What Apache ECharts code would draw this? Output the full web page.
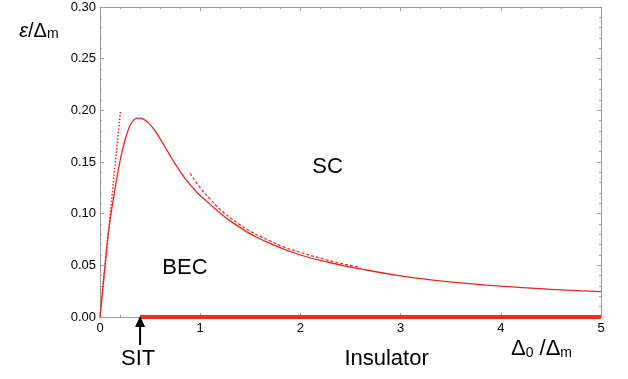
<!DOCTYPE html>
<html>
<head>
<meta charset="utf-8">
<script src="https://cdn.jsdelivr.net/npm/echarts@6/dist/echarts.min.js"></script>
<style>
  html, body { margin: 0; padding: 0; background: #fff; }
  #chart { width: 628px; height: 379px; }
</style>
</head>
<body>
<div id="chart"></div>
<script>
// Pair-breaking gap curve eps/Delta_m versus Delta_0/Delta_m
const gapDelta = [0, 0.03, 0.06, 0.08, 0.10, 0.12, 0.14, 0.16, 0.19, 0.22, 0.25, 0.28, 0.31, 0.34, 0.37, 0.40,
  0.45, 0.50, 0.55, 0.60, 0.65, 0.70, 0.75, 0.80, 0.85, 0.90, 0.95, 1.00, 1.10, 1.20, 1.30, 1.40, 1.50,
  1.70, 2.00, 2.30, 2.60, 3.00, 3.30, 3.60, 4.00, 4.50, 5.00];
const gapEps = [0, 0.030, 0.0595, 0.078, 0.093, 0.106, 0.118, 0.130, 0.146, 0.160, 0.1715, 0.1805, 0.187, 0.1908, 0.1924, 0.1925,
  0.1905, 0.1862, 0.1800, 0.1725, 0.1645, 0.1562, 0.1482, 0.1408, 0.1340, 0.1280, 0.1225, 0.1175, 0.1090, 0.1005, 0.0930, 0.0865, 0.0805,
  0.0710, 0.0600, 0.0525, 0.0465, 0.0398, 0.0360, 0.0330, 0.0298, 0.0268, 0.0245];

// Large-Delta_0 asymptote (dashed)
const asymDelta = [0.90, 1.00, 1.10, 1.20, 1.30, 1.40, 1.50, 1.60, 1.70, 1.80, 2.00, 2.20, 2.40, 2.60];
const asymEps = [0.139, 0.125, 0.114, 0.104, 0.096, 0.089, 0.083, 0.078, 0.0735, 0.069, 0.0625, 0.057, 0.052, 0.048];

// Small-Delta_0 slope (dotted)
const slopeDelta = [0, 0.205];
const slopeEps = [0, 0.200];

// Insulating segment on the axis, starting at the SIT point
const insulatorDelta = [0.4, 5];
const insulatorEps = [0, 0];
const sitDelta = 0.4;

// Axis ranges and ticks
const xMin = 0, xMax = 5, xStep = 1;
const yMin = 0, yMax = 0.30, yStep = 0.05;

const FONT = '"Liberation Sans", Arial, Helvetica, sans-serif';
const FRAME = '#9c9c9c';
const RED = '#f0231c';

const zip = (xs, ys) => xs.map((x, i) => [x, ys[i]]);

function xAxisDef(pos, showLabels) {
  return {
    type: 'value', position: pos, min: xMin, max: xMax, interval: xStep,
    axisLine: { show: true, onZero: false, lineStyle: { color: FRAME, width: 1 } },
    axisTick: { show: true, inside: true, length: 4, lineStyle: { color: FRAME } },
    minorTick: { show: true, splitNumber: 5, length: 2, lineStyle: { color: FRAME } },
    splitLine: { show: false },
    axisLabel: { show: showLabels, color: '#000', fontFamily: FONT, fontSize: 13, margin: 5,
      formatter: v => String(v) }
  };
}
function yAxisDef(pos, showLabels) {
  return {
    type: 'value', position: pos, min: yMin, max: yMax, interval: yStep,
    axisLine: { show: true, onZero: false, lineStyle: { color: FRAME, width: 1 } },
    axisTick: { show: true, inside: true, length: 4, lineStyle: { color: FRAME } },
    minorTick: { show: true, splitNumber: 5, length: 2, lineStyle: { color: FRAME } },
    splitLine: { show: false },
    axisLabel: { show: showLabels, color: '#000', fontFamily: FONT, fontSize: 13, margin: 4,
      formatter: v => v.toFixed(2) }
  };
}

const chart = echarts.init(document.getElementById('chart'), null, { renderer: 'canvas' });

chart.setOption({
  animation: false,
  backgroundColor: '#fff',
  grid: { left: 100, right: 27, top: 7, bottom: 62 },
  xAxis: [xAxisDef('bottom', true), xAxisDef('top', false)],
  yAxis: [yAxisDef('left', true), yAxisDef('right', false)],
  series: [
    {
      name: 'gap', type: 'line', data: zip(gapDelta, gapEps),
      showSymbol: false, smooth: 0.5, clip: false,
      lineStyle: { color: RED, width: 1.3 }, z: 3
    },
    {
      name: 'asymptote', type: 'line', data: zip(asymDelta, asymEps),
      showSymbol: false, smooth: 0.5, clip: false,
      lineStyle: { color: RED, width: 1.2, type: [3, 2] }, z: 3
    },
    {
      name: 'slope', type: 'line', data: zip(slopeDelta, slopeEps),
      showSymbol: false, clip: false,
      lineStyle: { color: RED, width: 1.5, type: [1.5, 1.8] }, z: 3
    },
    {
      name: 'insulator', type: 'line', data: zip(insulatorDelta, insulatorEps),
      showSymbol: false, clip: false,
      lineStyle: { color: '#ff2a14', width: 4 }, z: 4
    }
  ]
});

// Annotations: placed in data coordinates
const textStyleBase = { fontFamily: FONT, fill: '#000', align: 'center', verticalAlign: 'middle' };
const regionLabels = [
  { text: 'BEC', at: [0.848, 0.0470], size: 22 },
  { text: 'SC', at: [2.272, 0.1450], size: 22 },
  { text: 'SIT', at: [0.380, -0.0410], size: 22 },
  { text: 'Insulator', at: [2.860, -0.0410], size: 22 }
];

function px(p) { return chart.convertToPixel({ gridIndex: 0 }, p); }

const elements = [];
regionLabels.forEach(l => {
  const p = px(l.at);
  elements.push({
    type: 'text', x: p[0], y: p[1], z: 10,
    style: Object.assign({}, textStyleBase, { text: l.text, fontSize: l.size })
  });
});

// Arrow marking the SIT point
const tip = px([sitDelta, 0]);
elements.push({
  type: 'line', z: 10,
  shape: { x1: tip[0], y1: tip[1] + 9, x2: tip[0], y2: tip[1] + 28 },
  style: { stroke: '#000', lineWidth: 2 }
});
elements.push({
  type: 'polygon', z: 11,
  shape: { points: [[tip[0], tip[1] - 1], [tip[0] - 5, tip[1] + 10], [tip[0] + 5, tip[1] + 10]] },
  style: { fill: '#000' }
});

// Axis titles
const xTitle = px([4.406, -0.031]);
elements.push({
  type: 'text', x: xTitle[0], y: xTitle[1], z: 10,
  style: {
    text: '{a|Δ}{s|0}{a| /Δ}{s|m}', align: 'center', verticalAlign: 'middle',
    rich: {
      a: { fontFamily: FONT, fontSize: 22, fill: '#000', verticalAlign: 'bottom' },
      s: { fontFamily: FONT, fontSize: 14, fill: '#000', verticalAlign: 'bottom' }
    }
  }
});
const yTitle = px([-0.61, 0.2763]);
elements.push({
  type: 'text', x: yTitle[0], y: yTitle[1], z: 10,
  style: {
    text: '{e|ε}{a|/Δ}{s|m}', align: 'center', verticalAlign: 'middle',
    rich: {
      e: { fontFamily: FONT, fontSize: 20, fontStyle: 'italic', fill: '#000', verticalAlign: 'bottom' },
      a: { fontFamily: FONT, fontSize: 20, fill: '#000', verticalAlign: 'bottom' },
      s: { fontFamily: FONT, fontSize: 14, fill: '#000', verticalAlign: 'bottom' }
    }
  }
});

chart.setOption({ graphic: { elements: elements } });
</script>
</body>
</html>
